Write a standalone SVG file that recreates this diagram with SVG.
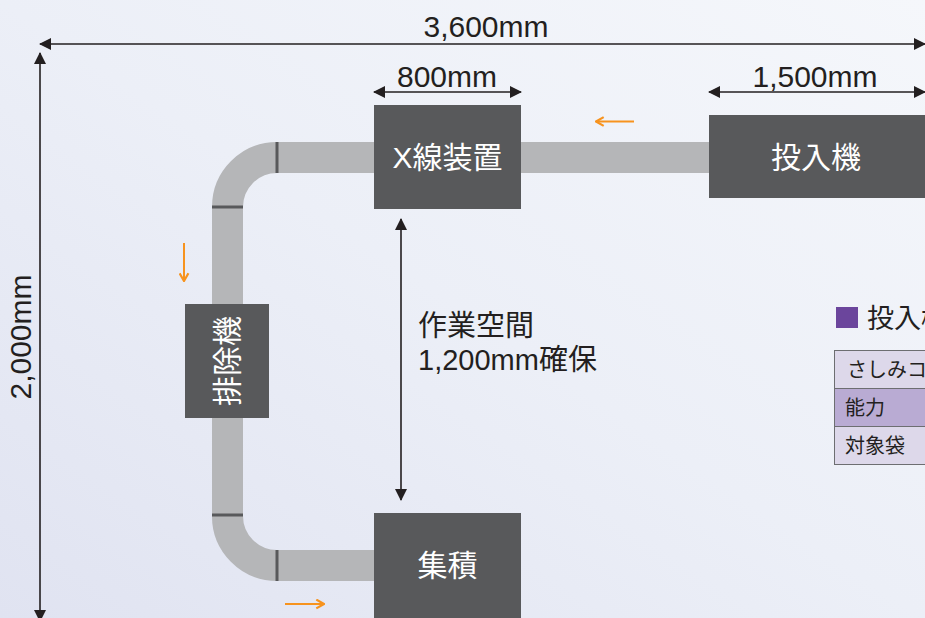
<svg xmlns="http://www.w3.org/2000/svg" width="925" height="618" viewBox="0 0 925 618">
  <defs>
    <linearGradient id="bg" x1="1" y1="0" x2="0" y2="1">
      <stop offset="0" stop-color="#f5f7fb"/>
      <stop offset="0.5" stop-color="#eceff7"/>
      <stop offset="1" stop-color="#e0e3f1"/>
    </linearGradient>
    <marker id="ah" viewBox="0 0 12 12" refX="11" refY="6" markerWidth="12" markerHeight="12" markerUnits="userSpaceOnUse" orient="auto-start-reverse">
      <path d="M0,0 L12,6 L0,12 Z" fill="#231f20"/>
    </marker>
    <marker id="oh" viewBox="0 0 10 10" refX="9" refY="5" markerWidth="11" markerHeight="11" markerUnits="userSpaceOnUse" orient="auto">
      <path d="M2,1 L9,5 L2,9" fill="none" stroke="#f7931e" stroke-width="2"/>
    </marker>
  </defs>
  <style>
    .t { font-family: "Liberation Sans", "Noto Sans CJK JP", sans-serif; fill: #231f20; }
    .dim { font-size: 30px; text-anchor: middle; }
    .lbl { font-size: 29px; }
    .node { fill: #58595b; }
    .nt { font-family: "Liberation Sans", "Noto Sans CJK JP", sans-serif; font-size: 30px; fill: #ffffff; text-anchor: middle; }
    .dl { stroke: #231f20; stroke-width: 1.6; fill: none; }
    .belt { fill: none; stroke: #b5b6b8; stroke-width: 31; }
    .div { stroke: #58595b; stroke-width: 3; }
    .flow { stroke: #f7931e; stroke-width: 2; fill: none; }
    .cell { stroke: #6d6e71; stroke-width: 1; }
    .ct { font-family: "Liberation Sans", "Noto Sans CJK JP", sans-serif; font-size: 20px; fill: #231f20; }
  </style>
  <rect x="0" y="0" width="925" height="618" fill="url(#bg)"/>

  <g id="conveyor">
    <path class="belt" d="M709,157.5 L277,157.5 A49.5,49.5 0 0 0 227.5,207 L227.5,515 A49.5,49.5 0 0 0 277,565.5 L374,565.5"/>
    <line class="div" x1="277" y1="142" x2="277" y2="173"/>
    <line class="div" x1="212" y1="207" x2="243" y2="207"/>
    <line class="div" x1="212" y1="515" x2="243" y2="515"/>
    <line class="div" x1="277" y1="550" x2="277" y2="581"/>
  </g>

  <g id="connectors">
    <line class="dl" x1="40" y1="44" x2="925" y2="44" marker-start="url(#ah)" marker-end="url(#ah)"/>
    <line class="dl" x1="40" y1="53" x2="40" y2="621" marker-start="url(#ah)" marker-end="url(#ah)"/>
    <line class="dl" x1="374" y1="92" x2="521" y2="92" marker-start="url(#ah)" marker-end="url(#ah)"/>
    <line class="dl" x1="709" y1="92" x2="925" y2="92" marker-start="url(#ah)" marker-end="url(#ah)"/>
    <line class="dl" x1="401" y1="219" x2="401" y2="500" marker-start="url(#ah)" marker-end="url(#ah)"/>
    <line class="flow" x1="634" y1="121.5" x2="596" y2="121.5" marker-end="url(#oh)"/>
    <line class="flow" x1="184" y1="243" x2="184" y2="281" marker-end="url(#oh)"/>
    <line class="flow" x1="285" y1="604" x2="324" y2="604" marker-end="url(#oh)"/>
  </g>

  <g id="dimensions">
    <text class="t dim" x="486" y="37">3,600mm</text>
    <text class="t dim" x="447" y="87">800mm</text>
    <text class="t dim" x="815" y="87">1,500mm</text>
    <text class="t dim" transform="translate(31,337) rotate(-90)" x="0" y="0">2,000mm</text>
  </g>

  <g id="workspace-label">
    <text class="t lbl" x="418" y="336">作業空間</text>
    <text class="t lbl" x="418" y="370">1,200mm確保</text>
  </g>

  <g id="node-xray">
    <rect class="node" x="374" y="105" width="147" height="104"/>
    <text class="nt" x="447.5" y="168">X線装置</text>
  </g>

  <g id="node-feeder">
    <rect class="node" x="709" y="115" width="220" height="83"/>
    <text class="nt" x="816" y="168">投入機</text>
  </g>

  <g id="node-reject">
    <rect class="node" x="185" y="304" width="84" height="114"/>
    <text class="nt" transform="translate(238,361) rotate(-90)" x="0" y="0">排除機</text>
  </g>

  <g id="node-collect">
    <rect class="node" x="374" y="513" width="147" height="110"/>
    <text class="nt" x="447.5" y="576">集積</text>
  </g>

  <g id="legend">
    <rect x="836" y="307" width="22" height="21" fill="#6b459c"/>
    <text class="t" x="867" y="328" font-size="27">投入機</text>
    <rect class="cell" x="834.5" y="350.5" width="100" height="38" fill="#ddd8ea"/>
    <rect class="cell" x="834.5" y="388.5" width="100" height="38" fill="#b9abd3"/>
    <rect class="cell" x="834.5" y="426.5" width="100" height="38" fill="#ddd8ea"/>
    <text class="ct" x="847" y="377">さしみコ</text>
    <text class="ct" x="845" y="415">能力</text>
    <text class="ct" x="845" y="453">対象袋</text>
  </g>
</svg>
